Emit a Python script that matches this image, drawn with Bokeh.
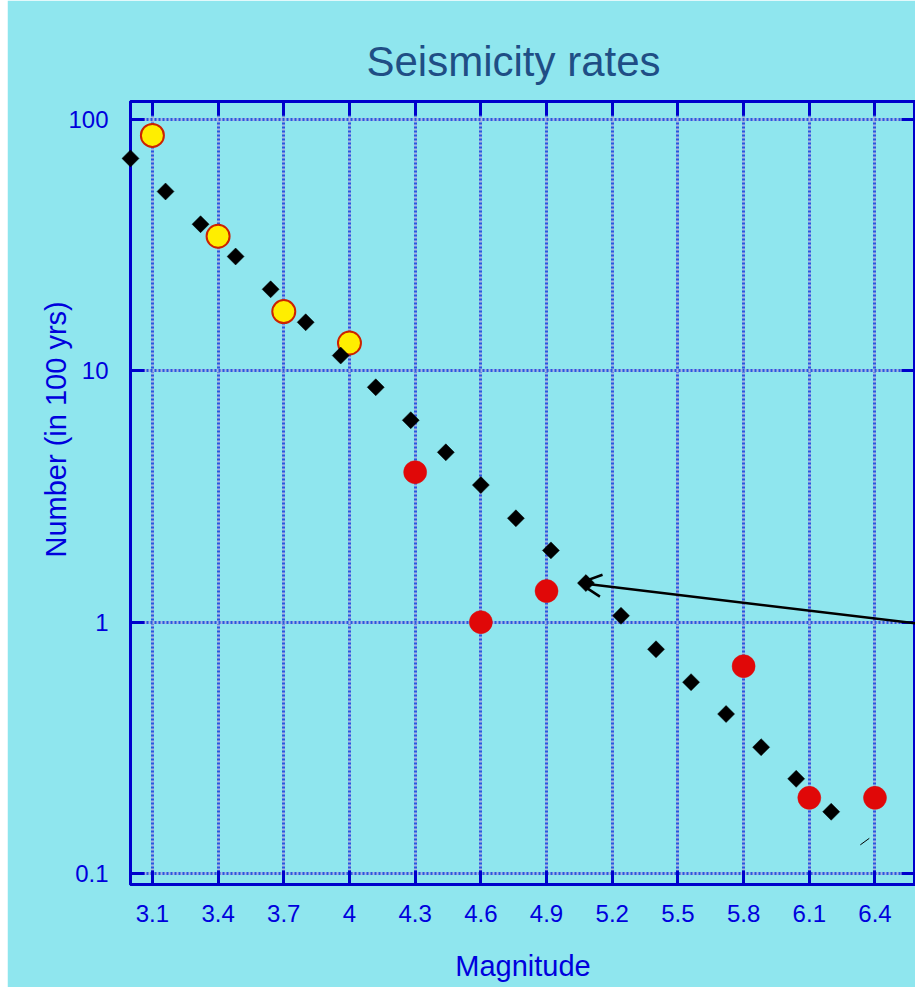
import numpy as np
from bokeh.plotting import figure
from bokeh.models import (ColumnDataSource, FixedTicker, LinearAxis, LogAxis, Grid,
                          Arrow, OpenHead, CustomJSTickFormatter, Spacer, Title)
from bokeh.layouts import row
from bokeh.embed import file_html
from bokeh.resources import INLINE

# ---------------- data ----------------
x_ticks = [3.1, 3.4, 3.7, 4.0, 4.3, 4.6, 4.9, 5.2, 5.5, 5.8, 6.1, 6.4]
y_ticks = [0.1, 1, 10, 100]

# model rate (black diamonds)
rate_mag = [3.00, 3.16, 3.32, 3.48, 3.64, 3.80, 3.96, 4.12, 4.28, 4.44, 4.60,
            4.76, 4.92, 5.08, 5.24, 5.40, 5.56, 5.72, 5.88, 6.04, 6.20]
rate_num = [70.0, 51.7, 38.3, 28.5, 21.1, 15.6, 11.5, 8.6, 6.36, 4.74, 3.51,
            2.59, 1.93, 1.43, 1.06, 0.78, 0.577, 0.431, 0.318, 0.238, 0.176]

# yellow circles
hist_mag = [3.1, 3.4, 3.7, 4.0]
hist_num = [86.4, 34.3, 17.2, 12.9]

# red circles
obs_mag = [4.3, 4.6, 4.9, 5.8, 6.1, 6.4]
obs_num = [3.95, 1.0, 1.33, 0.668, 0.20, 0.20]

# arrow annotation (start -> end)
arrow_x = [6.585, 5.05]
arrow_y = [0.99, 1.43]

# small stray stroke
stroke_x = [6.333, 6.374]
stroke_y = [0.130, 0.138]

# ---------------- style ----------------
BG = "#8fe6ee"
FRAME = "#0000cc"
TXT = "#0000dd"
FONT = "Liberation Sans"

p = figure(width=908, height=987, y_axis_type="log",
           x_range=(3.0, 6.585), y_range=(0.0904, 117.9),
           output_backend="svg", toolbar_location=None,
           background_fill_color=BG, border_fill_color=BG,
           min_border_left=123, min_border_right=0,
           min_border_top=101, min_border_bottom=103,
           title="Seismicity rates")

p.title.text_font = FONT
p.title.text_font_size = "42px"
p.title.text_font_style = "normal"
p.title.text_color = "#1f4e85"
p.title.align = "left"
p.title.offset = 236
p.title.standoff = 34

p.outline_line_color = FRAME
p.outline_line_width = 3

xticker = FixedTicker(ticks=x_ticks)
yticker = FixedTicker(ticks=y_ticks)
xfmt = CustomJSTickFormatter(code="return (Math.round(tick*10)/10).toString();")
yfmt = CustomJSTickFormatter(code="return tick < 1 ? tick.toFixed(1) : tick.toFixed(0);")

# remove default grids, add layered grids
p.xgrid.visible = False
p.ygrid.visible = False
for dim, tk in ((0, xticker), (1, yticker)):
    p.add_layout(Grid(dimension=dim, ticker=tk, grid_line_color="#a8b8e0",
                      grid_line_width=3))
    p.add_layout(Grid(dimension=dim, ticker=tk, grid_line_color="#2659e0",
                      grid_line_width=3, grid_line_dash="2 2"))

def style_axis(ax, labels=True):
    ax.axis_line_color = FRAME
    ax.axis_line_width = 3
    ax.major_tick_in = 14
    ax.major_tick_out = 0
    ax.major_tick_line_color = FRAME
    ax.major_tick_line_width = 3
    ax.minor_tick_line_color = None
    if labels:
        ax.major_label_text_font = FONT
        ax.major_label_text_font_size = "24px"
        ax.major_label_text_color = TXT
    else:
        ax.major_label_text_font_size = "0px"
        ax.major_label_text_color = None
        ax.major_label_standoff = 0

xa = p.xaxis[0]
xa.ticker = xticker
xa.formatter = xfmt
style_axis(xa)
xa.major_label_standoff = 20
xa.axis_label = "Magnitude"
xa.axis_label_text_font = FONT
xa.axis_label_text_font_size = "29px"
xa.axis_label_text_font_style = "normal"
xa.axis_label_text_color = TXT
xa.axis_label_standoff = 25

ya = p.yaxis[0]
ya.ticker = yticker
ya.formatter = yfmt
style_axis(ya)
ya.major_label_standoff = 22

top = LinearAxis(ticker=xticker, formatter=xfmt)
style_axis(top, labels=False)
p.add_layout(top, "above")
right = LogAxis(ticker=yticker, formatter=yfmt)
style_axis(right, labels=False)
p.add_layout(right, "right")

# y-axis title as a side title (allows the off-centre placement of the original)
p.add_layout(Title(text="Number (in 100 yrs)", align="left", offset=327, standoff=-12,
                   text_font=FONT, text_font_size="29px", text_font_style="normal",
                   text_color=TXT), "left")

# ---------------- glyphs ----------------
rate_src = ColumnDataSource(dict(x=rate_mag, y=rate_num))
hist_src = ColumnDataSource(dict(x=hist_mag, y=hist_num))
obs_src = ColumnDataSource(dict(x=obs_mag, y=obs_num))

p.scatter("x", "y", source=hist_src, marker="circle", size=23,
          fill_color="#ffee00", line_color="#cc2200", line_width=2)
p.scatter("x", "y", source=obs_src, marker="circle", size=23,
          fill_color="#e00808", line_color="#e00808", line_width=0.5)
p.scatter("x", "y", source=rate_src, marker="square", size=12, angle=np.pi / 4,
          fill_color="black", line_color="black", line_width=0.5, level="overlay")

p.add_layout(Arrow(x_start=arrow_x[0], y_start=arrow_y[0],
                   x_end=arrow_x[1], y_end=arrow_y[1],
                   line_color="black", line_width=2.5,
                   end=OpenHead(size=22, line_color="black", line_width=2.5)))
p.line(stroke_x, stroke_y, line_color="black", line_width=1)

layout = row(Spacer(width=7, height=987), p)
open("out.html", "w").write(file_html(layout, INLINE))
